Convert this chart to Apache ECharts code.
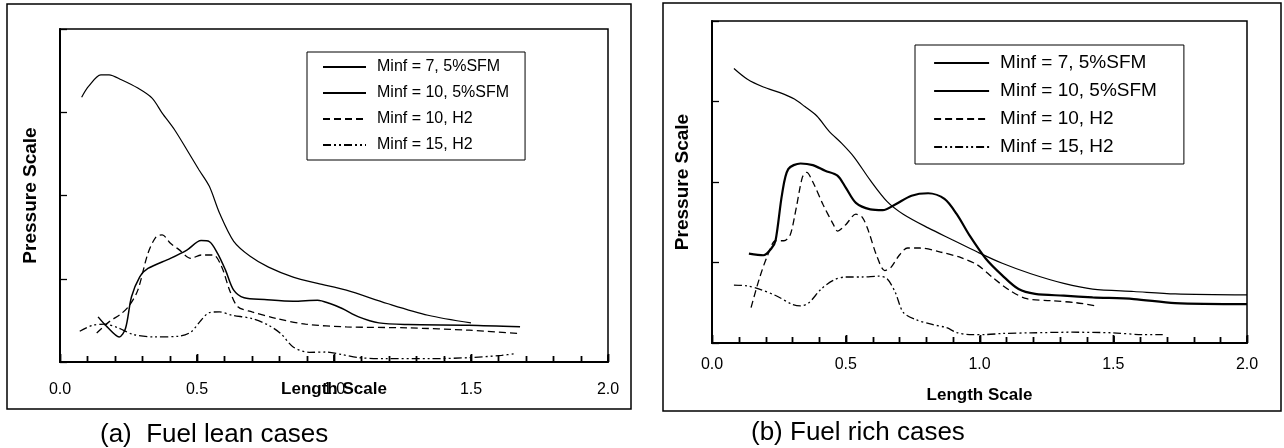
<!DOCTYPE html>
<html>
<head>
<meta charset="utf-8">
<script src="https://cdn.jsdelivr.net/npm/echarts@6/dist/echarts.min.js"></script>
<style>
  html, body { margin: 0; padding: 0; background: #fff; }
  #chart { width: 1284px; height: 448px; }
</style>
</head>
<body>
<div id="chart"></div>
<script>
var names = ['Minf = 7, 5%SFM', 'Minf = 10, 5%SFM', 'Minf = 10, H2', 'Minf = 15, H2'];
var xTickStep = 0.1;   // small ticks along the length axis
var xLabelStep = 0.5;  // labelled ticks

// (a) fuel lean cases  [length, pressure]
var leanM7 = [[0.079,3.18],[0.104,3.31],[0.149,3.45],[0.179,3.45],[0.224,3.39],[0.284,3.29],[0.336,3.17],[0.373,2.99],[0.418,2.79],[0.463,2.55],[0.507,2.31],[0.545,2.11],[0.582,1.79],[0.634,1.45],[0.694,1.27],[0.761,1.14],[0.851,1.02],[0.940,0.944],[1.045,0.863],[1.194,0.703],[1.343,0.562],[1.5,0.47]];
var leanM10 = [[0.139,0.542],[0.172,0.422],[0.216,0.301],[0.239,0.402],[0.261,0.783],[0.291,1.024],[0.321,1.124],[0.403,1.245],[0.463,1.345],[0.515,1.458],[0.545,1.446],[0.575,1.305],[0.604,1.104],[0.634,0.863],[0.672,0.771],[0.746,0.751],[0.851,0.731],[0.940,0.743],[0.985,0.703],[1.030,0.643],[1.090,0.542],[1.164,0.470],[1.269,0.450],[1.493,0.442],[1.679,0.422]];
var leanH2M10 = [[0.134,0.349],[0.179,0.482],[0.224,0.582],[0.254,0.683],[0.284,0.863],[0.321,1.305],[0.351,1.506],[0.373,1.526],[0.403,1.426],[0.433,1.353],[0.478,1.245],[0.515,1.285],[0.560,1.285],[0.590,1.145],[0.619,0.863],[0.649,0.663],[0.701,0.602],[0.791,0.522],[0.896,0.454],[1.045,0.422],[1.269,0.410],[1.493,0.382],[1.679,0.341]];
var leanH2M15 = [[0.072,0.369],[0.119,0.442],[0.164,0.454],[0.209,0.414],[0.269,0.329],[0.343,0.301],[0.433,0.309],[0.478,0.361],[0.515,0.502],[0.545,0.594],[0.582,0.602],[0.627,0.562],[0.701,0.522],[0.761,0.442],[0.806,0.341],[0.851,0.181],[0.910,0.116],[0.970,0.120],[1.030,0.088],[1.090,0.052],[1.194,0.040],[1.343,0.040],[1.493,0.052],[1.612,0.080],[1.660,0.100]];

// (b) fuel rich cases
var richM7 = [[0.082,3.41],[0.131,3.28],[0.192,3.18],[0.254,3.11],[0.308,3.03],[0.346,2.94],[0.392,2.82],[0.438,2.63],[0.485,2.48],[0.531,2.31],[0.592,2.02],[0.654,1.76],[0.715,1.60],[0.808,1.43],[0.900,1.28],[0.992,1.13],[1.085,0.99],[1.192,0.86],[1.315,0.74],[1.423,0.67],[1.577,0.64],[1.731,0.61],[2.0,0.597]];
var richM10 = [[0.138,1.11],[0.192,1.09],[0.223,1.18],[0.238,1.28],[0.262,1.85],[0.285,2.16],[0.331,2.23],[0.377,2.21],[0.423,2.14],[0.469,2.08],[0.500,1.93],[0.538,1.74],[0.592,1.66],[0.638,1.65],[0.685,1.72],[0.746,1.83],[0.808,1.86],[0.869,1.79],[0.915,1.60],[0.962,1.34],[1.023,1.05],[1.085,0.84],[1.146,0.67],[1.208,0.61],[1.315,0.588],[1.423,0.567],[1.577,0.546],[1.731,0.496],[2.0,0.483]];
var richH2M10 = [[0.146,0.44],[0.177,0.80],[0.208,1.09],[0.238,1.27],[0.269,1.27],[0.292,1.34],[0.315,1.68],[0.338,2.06],[0.354,2.12],[0.377,2.00],[0.415,1.72],[0.454,1.47],[0.469,1.39],[0.500,1.47],[0.538,1.60],[0.562,1.56],[0.585,1.39],[0.615,1.09],[0.646,0.90],[0.669,0.94],[0.700,1.09],[0.731,1.18],[0.777,1.18],[0.854,1.13],[0.931,1.06],[0.992,0.97],[1.054,0.80],[1.115,0.65],[1.177,0.55],[1.269,0.525],[1.362,0.50],[1.438,0.46]];
var richH2M15 = [[0.082,0.72],[0.131,0.71],[0.177,0.67],[0.238,0.59],[0.300,0.48],[0.331,0.46],[0.362,0.50],[0.408,0.67],[0.454,0.78],[0.500,0.82],[0.562,0.82],[0.623,0.83],[0.654,0.80],[0.685,0.63],[0.715,0.38],[0.762,0.29],[0.823,0.23],[0.877,0.19],[0.915,0.13],[0.962,0.105],[1.023,0.105],[1.085,0.118],[1.192,0.126],[1.346,0.134],[1.500,0.126],[1.608,0.105],[1.685,0.105]];

var FONT = 'Liberation Sans, Arial, sans-serif';
var styles = [
  { width: 1.2, type: 'solid' },
  { width: 1.8, type: 'solid' },
  { width: 1.3, type: [7, 4] },
  { width: 1.3, type: [8, 3, 2, 3, 2, 3] }
];

function mkSeries(idx, data, styleIdx, width) {
  return {
    type: 'line',
    name: names[styleIdx],
    xAxisIndex: idx,
    yAxisIndex: idx,
    data: data,
    symbol: 'none',
    smooth: 0.3,
    lineStyle: { color: '#000', width: width || styles[styleIdx].width, type: styles[styleIdx].type },
    itemStyle: { color: '#000' }
  };
}

function xAxisOpt(gridIdx, nameGap, labelMargin, nameSize) {
  return {
    type: 'value', gridIndex: gridIdx, min: 0, max: 2, interval: xLabelStep,
    name: 'Length Scale', nameLocation: 'middle', nameGap: nameGap, nameMoveOverlap: false,
    nameTextStyle: { fontFamily: FONT, fontWeight: 'bold', fontSize: nameSize, color: '#000' },
    axisLine: { onZero: false, lineStyle: { color: '#000', width: 2 } },
    axisTick: { show: true, inside: true, length: 7, lineStyle: { color: '#000', width: 1.8 } },
    axisLabel: { fontFamily: FONT, fontSize: 16, color: '#000', margin: labelMargin,
      formatter: function (v) { return (+v).toFixed(1); } },
    splitLine: { show: false }
  };
}

function yAxisOpt(gridIdx, nameSize) {
  return {
    type: 'value', gridIndex: gridIdx, min: 0, max: 4, interval: 1,
    name: 'Pressure Scale', nameLocation: 'middle', nameGap: 20, nameRotate: 90, nameMoveOverlap: false,
    nameTextStyle: { fontFamily: FONT, fontWeight: 'bold', fontSize: nameSize, color: '#000' },
    axisLine: { onZero: false, lineStyle: { color: '#000', width: 2 } },
    axisTick: { inside: true, length: 7, lineStyle: { color: '#000', width: 1.3 } },
    axisLabel: { show: false },
    splitLine: { show: false }
  };
}

function legendOpt(left, top, size, lh, gap, iconW, pad, thick) {
  return {
    orient: 'vertical', left: left, top: top,
    data: names.map(function (n, i) {
      var d = { name: n };
      if (i === 1 && thick) d.lineStyle = { width: thick };
      return d;
    }),
    itemWidth: iconW, itemHeight: 12, itemGap: gap,
    padding: pad,
    borderColor: '#000', borderWidth: 1, borderRadius: 0,
    backgroundColor: '#fff',
    itemStyle: { opacity: 0, borderWidth: 0 },
    textStyle: { fontFamily: FONT, fontSize: size, color: '#000', lineHeight: lh, padding: [0, 0, 0, 6] }
  };
}

var boxes = [
  { type: 'rect', shape: { x: 7, y: 4, width: 624, height: 405 }, style: { fill: 'none', stroke: '#000', lineWidth: 1.5 }, silent: true },
  { type: 'rect', shape: { x: 663, y: 3, width: 618, height: 408 }, style: { fill: 'none', stroke: '#000', lineWidth: 1.5 }, silent: true }
];

var chart = echarts.init(document.getElementById('chart'), null, { renderer: 'canvas' });
chart.setOption({
  animation: false,
  backgroundColor: '#fff',
  title: [
    { text: '(a)  Fuel lean cases', left: 100, top: 422,
      textStyle: { fontFamily: FONT, fontWeight: 'normal', fontSize: 26, color: '#000' }, padding: 0 },
    { text: '(b) Fuel rich cases', left: 751, top: 420,
      textStyle: { fontFamily: FONT, fontWeight: 'normal', fontSize: 26, color: '#000' }, padding: 0 }
  ],
  graphic: boxes,
  grid: [
    { left: 60, top: 29, width: 548, height: 333, show: true, borderColor: '#000', borderWidth: 1.5 },
    { left: 712, top: 21, width: 535, height: 322, show: true, borderColor: '#000', borderWidth: 1.5 }
  ],
  xAxis: [xAxisOpt(0, 19, 20, 17), xAxisOpt(1, 44, 14, 17)],
  yAxis: [yAxisOpt(0, 19), yAxisOpt(1, 19)],
  legend: [
    legendOpt(307, 52, 16, 20, 6, 43, [5, 16, 5, 15]),
    legendOpt(915, 45, 19, 22, 6, 55, [7, 27, 6, 18], 2.2)
  ],
  series: [
    mkSeries(0, leanM7, 0), mkSeries(0, leanM10, 1, 1.5), mkSeries(0, leanH2M10, 2), mkSeries(0, leanH2M15, 3),
    mkSeries(1, richM7, 0), mkSeries(1, richM10, 1, 2.2), mkSeries(1, richH2M10, 2), mkSeries(1, richH2M15, 3)
  ]
});

// small upward ticks on the length axis, placed through the axis scale
var tickMarks = [];
[0, 1].forEach(function (g) {
  var n = Math.round(2 / xTickStep);
  for (var i = 0; i <= n; i++) {
    var v = i * xTickStep;
    var p = chart.convertToPixel({ xAxisIndex: g, yAxisIndex: g }, [v, 0]);
    if (!p || isNaN(p[0])) continue;
    var major = Math.abs(v / xLabelStep - Math.round(v / xLabelStep)) < 1e-6;
    var len = major ? 8 : 6;
    tickMarks.push({
      type: 'line', silent: true, z: 100,
      shape: { x1: Math.round(p[0]) + 0.5, y1: p[1], x2: Math.round(p[0]) + 0.5, y2: p[1] - len },
      style: { stroke: '#000', lineWidth: 1.8 }
    });
  }
});
chart.setOption({ graphic: boxes.concat(tickMarks) });
</script>
</body>
</html>
